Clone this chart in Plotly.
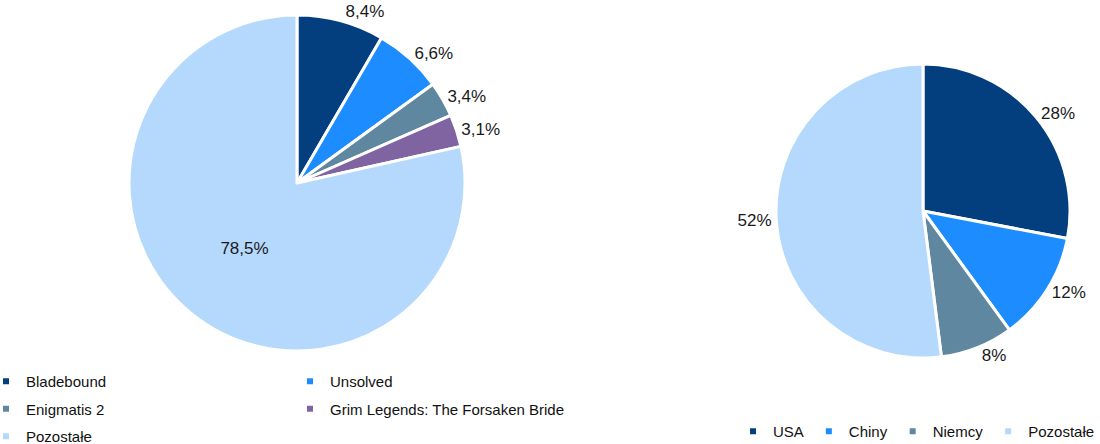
import plotly.graph_objects as go

# ---- data ----
games = ["Bladebound", "Unsolved", "Enigmatis 2", "Grim Legends: The Forsaken Bride", "Pozostałe"]
games_share = [8.4, 6.6, 3.4, 3.1, 78.5]
games_colors = ["#033F7E", "#1C8CFF", "#5F88A0", "#8064A2", "#B4D9FC"]

countries = ["USA", "Chiny", "Niemcy", "Pozostałe"]
countries_share = [28, 12, 8, 52]
countries_colors = ["#033F7E", "#1C8CFF", "#5F88A0", "#B4D9FC"]

W, H = 1100, 444
FONT = "Liberation Sans, Arial, sans-serif"
TXT = "#1a1a1a"

fig = go.Figure()

# left pie
lcx, lcy, lr = 297, 183, 168
fig.add_trace(go.Pie(
    labels=games, values=games_share, sort=False, direction="clockwise", rotation=0,
    marker=dict(colors=games_colors, line=dict(color="white", width=3)),
    texttemplate="%{percent:.1%}",
    textposition=["outside", "outside", "outside", "outside", "inside"],
    insidetextorientation="horizontal",
    textfont=dict(family=FONT, size=17, color=TXT),
    showlegend=False, hoverinfo="label+percent",
    domain=dict(x=[(lcx - lr) / W, (lcx + lr) / W],
                y=[(H - lcy - lr) / H, (H - lcy + lr) / H]),
))

# right pie
rcx, rcy, rr = 923, 211, 147
fig.add_trace(go.Pie(
    labels=countries, values=countries_share, sort=False, direction="clockwise", rotation=0,
    marker=dict(colors=countries_colors, line=dict(color="white", width=3)),
    texttemplate="%{percent:.0%}",
    textposition="outside",
    textfont=dict(family=FONT, size=17, color=TXT),
    showlegend=False, hoverinfo="label+percent",
    domain=dict(x=[(rcx - rr) / W, (rcx + rr) / W],
                y=[(H - rcy - rr) / H, (H - rcy + rr) / H]),
))

# legend entries (small square markers)
left_col = {0: "legend2", 1: "legend3", 2: "legend2", 3: "legend3", 4: "legend2"}
for i, (name, col) in enumerate(zip(games, games_colors)):
    fig.add_trace(go.Scatter(
        x=[None], y=[None], mode="markers", name=name,
        marker=dict(symbol="square", size=6, color=col),
        legend=left_col[i], legendgroup="g%d" % i, showlegend=True, hoverinfo="skip",
    ))
for i, (name, col) in enumerate(zip(countries, countries_colors)):
    fig.add_trace(go.Scatter(
        x=[None], y=[None], mode="markers", name=name,
        marker=dict(symbol="square", size=6, color=col),
        legend="legend", legendgroup="c%d" % i, showlegend=True, hoverinfo="skip",
    ))

legend_font = dict(family=FONT, size=15, color="#111111")
fig.update_layout(
    width=W, height=H,
    margin=dict(l=0, r=0, t=0, b=0, autoexpand=False),
    paper_bgcolor="white", plot_bgcolor="white",
    separators=", ",
    font=dict(family=FONT, color=TXT),
    xaxis=dict(visible=False), yaxis=dict(visible=False),
    legend=dict(orientation="h", x=1.0, xanchor="right", y=(H - 415) / H, yanchor="top",
                font=legend_font, bgcolor="rgba(0,0,0,0)", tracegroupgap=0),
    legend2=dict(orientation="v", x=-14 / W, xanchor="left", y=(H - 365) / H, yanchor="top",
                 font=legend_font, bgcolor="rgba(0,0,0,0)", tracegroupgap=5),
    legend3=dict(orientation="v", x=290 / W, xanchor="left", y=(H - 365) / H, yanchor="top",
                 font=legend_font, bgcolor="rgba(0,0,0,0)", tracegroupgap=5),
)

fig.write_html("out.html")
